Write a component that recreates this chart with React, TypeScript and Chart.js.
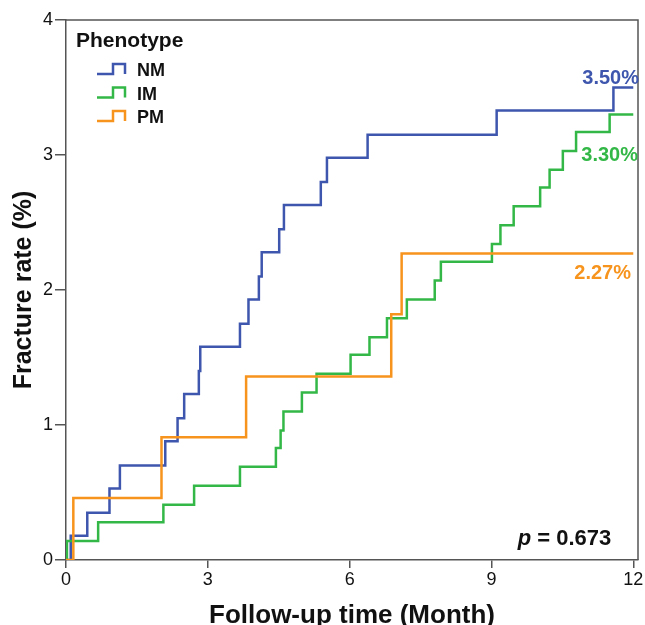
import { useEffect, useRef } from "react";
import { Chart, registerables } from "chart.js";

Chart.register(...registerables);

// Kaplan-Meier style cumulative fracture rate (%) by phenotype
const nmTimes = [0, 0.1, 0.45, 0.92, 1.14, 2.1, 2.36, 2.5, 2.81, 2.84, 3.68, 3.86, 4.08, 4.14, 4.51, 4.61, 5.39, 5.52, 6.38, 9.11, 11.58, 12];
const nmRates = [0, 0.18, 0.35, 0.53, 0.7, 0.88, 1.05, 1.23, 1.4, 1.58, 1.75, 1.93, 2.1, 2.28, 2.45, 2.63, 2.8, 2.98, 3.15, 3.33, 3.5, 3.5];

const imTimes = [0, 0.02, 0.68, 2.06, 2.71, 3.68, 4.44, 4.54, 4.6, 4.99, 5.3, 6.02, 6.42, 6.79, 7.21, 7.8, 7.93, 9.01, 9.19, 9.47, 10.03, 10.23, 10.51, 10.79, 11.5, 12];
const imRates = [0, 0.14, 0.28, 0.41, 0.55, 0.69, 0.83, 0.96, 1.1, 1.24, 1.38, 1.52, 1.65, 1.79, 1.93, 2.07, 2.21, 2.34, 2.48, 2.62, 2.76, 2.89, 3.03, 3.17, 3.3, 3.3];

const pmTimes = [0, 0.155, 2.02, 3.81, 6.88, 7.1, 12];
const pmRates = [0, 0.46, 0.91, 1.36, 1.82, 2.27, 2.27];

const seriesNames = ["NM", "IM", "PM"];
const endLabels = ["3.50%", "3.30%", "2.27%"];
const legendTitle = "Phenotype";
const pValueText = "= 0.673";
const xTicks = [0, 3, 6, 9, 12];
const yTicks = [0, 1, 2, 3, 4];
const xTitle = "Follow-up time (Month)";
const yTitle = "Fracture rate (%)";

const BLUE = "#3e56ad";
const GREEN = "#33b847";
const ORANGE = "#f7941e";
const COLORS = [BLUE, GREEN, ORANGE];
const AXIS = "#555555";
const FONT = "'Liberation Sans', Arial, Helvetica, sans-serif";

const toPoints = (t: number[], v: number[]) => t.map((x, i) => ({ x, y: v[i] }));

const overlayPlugin = {
  id: "overlay",
  afterDraw(chart: any) {
    const { ctx, chartArea: a, scales } = chart;
    const xs = scales.x;
    const ys = scales.y;
    ctx.save();
    // top & right frame
    ctx.strokeStyle = AXIS;
    ctx.lineWidth = 1.5;
    ctx.beginPath();
    ctx.moveTo(a.left, a.top);
    ctx.lineTo(a.right, a.top);
    ctx.lineTo(a.right, a.bottom);
    ctx.stroke();

    // legend
    ctx.fillStyle = "#111";
    ctx.textAlign = "left";
    ctx.textBaseline = "alphabetic";
    ctx.font = `bold 21px ${FONT}`;
    ctx.fillText(legendTitle, a.left + 10, a.top + 27);
    ctx.font = `bold 18px ${FONT}`;
    seriesNames.forEach((name, i) => {
      const low = a.top + 54 + i * 23.5;
      const high = low - 10;
      const x0 = a.left + 31;
      ctx.strokeStyle = COLORS[i];
      ctx.lineWidth = 2.5;
      ctx.beginPath();
      ctx.moveTo(x0, low);
      ctx.lineTo(x0 + 16, low);
      ctx.lineTo(x0 + 16, high);
      ctx.lineTo(x0 + 28, high);
      ctx.lineTo(x0 + 28, low);
      ctx.stroke();
      ctx.fillStyle = "#111";
      ctx.fillText(name, a.left + 71, low + 2);
    });

    // end labels
    const lastVals = [nmRates[nmRates.length - 1], imRates[imRates.length - 1], pmRates[pmRates.length - 1]];
    const offsets = [-4, 46, 25];
    const rights = [a.right + 1, a.right, a.right - 7];
    ctx.font = `bold 20px ${FONT}`;
    ctx.textAlign = "right";
    endLabels.forEach((lab, i) => {
      ctx.fillStyle = COLORS[i];
      ctx.fillText(lab, rights[i], ys.getPixelForValue(lastVals[i]) + offsets[i]);
    });

    // p value
    ctx.fillStyle = "#111";
    ctx.font = `bold 22px ${FONT}`;
    const rx = xs.getPixelForValue(12) - 22;
    const by = a.bottom - 15;
    ctx.textAlign = "right";
    ctx.fillText(pValueText, rx, by);
    const w = ctx.measureText(pValueText).width;
    ctx.font = `italic bold 22px ${FONT}`;
    ctx.fillText("p ", rx - w, by);
    ctx.restore();
  },
};

export default function App() {
  const ref = useRef<HTMLCanvasElement | null>(null);
  useEffect(() => {
    if (!ref.current) return;
    const mk = (label: string, t: number[], v: number[], color: string, order: number) => ({
      label,
      data: toPoints(t, v),
      borderColor: color,
      backgroundColor: color,
      borderWidth: 2.5,
      pointRadius: 0,
      stepped: "before" as const,
      fill: false,
      order,
    });
    const chart = new Chart(ref.current, {
      type: "line",
      data: {
        datasets: [
          mk(seriesNames[0], nmTimes, nmRates, BLUE, 2),
          mk(seriesNames[1], imTimes, imRates, GREEN, 1),
          mk(seriesNames[2], pmTimes, pmRates, ORANGE, 0),
        ],
      },
      options: {
        responsive: false,
        animation: false,
        layout: { padding: { top: 20, right: 7, left: 0, bottom: 0 } },
        plugins: { legend: { display: false }, tooltip: { enabled: false } },
        scales: {
          x: {
            type: "linear",
            min: 0,
            max: 12.1,
            afterBuildTicks: (s: any) => {
              s.ticks = xTicks.map((value) => ({ value }));
            },
            afterFit: (s: any) => {
              s.height = 65;
              s.paddingLeft = 0;
              s.paddingRight = 0;
            },
            grid: { display: true, drawOnChartArea: false, drawTicks: true, tickLength: 8, color: AXIS, lineWidth: 1.5 },
            border: { display: true, color: AXIS, width: 1.5 },
            ticks: { color: "#111", padding: 1, maxRotation: 0, font: { family: FONT, size: 18 } },
            title: {
              display: true,
              text: xTitle,
              color: "#111",
              font: { family: FONT, size: 26, weight: "bold", lineHeight: 1 },
              padding: { top: 0, bottom: -4 },
            },
          },
          y: {
            type: "linear",
            min: 0,
            max: 4,
            afterBuildTicks: (s: any) => {
              s.ticks = yTicks.map((value) => ({ value }));
            },
            afterFit: (s: any) => {
              s.width = 66;
              s.paddingTop = 0;
              s.paddingBottom = 0;
            },
            grid: { display: true, drawOnChartArea: false, drawTicks: true, tickLength: 11, color: AXIS, lineWidth: 1.5 },
            border: { display: true, color: AXIS, width: 1.5 },
            ticks: { color: "#111", padding: 2, font: { family: FONT, size: 18 } },
            title: {
              display: true,
              text: yTitle,
              color: "#111",
              font: { family: FONT, size: 25, weight: "bold", lineHeight: 1 },
              padding: { top: 12, bottom: 0 },
            },
          },
        },
      },
      plugins: [overlayPlugin],
    });
    return () => chart.destroy();
  }, []);
  return (
    <div style={{ position: "absolute", left: 0, top: 0, width: 645, height: 625, background: "#fff" }}>
      <canvas ref={ref} width={645} height={625} />
    </div>
  );
}
